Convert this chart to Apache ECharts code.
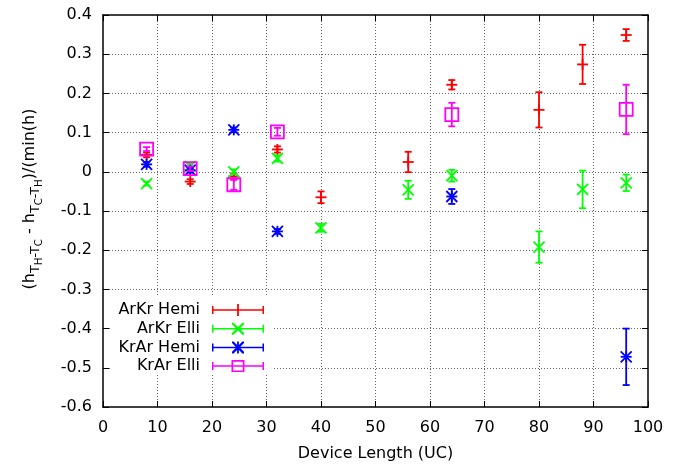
<!DOCTYPE html>
<html>
<head>
<meta charset="utf-8">
<script src="https://cdn.jsdelivr.net/npm/echarts@6/dist/echarts.min.js"></script>
<style>
  html, body { margin: 0; padding: 0; background: #fff; }
  #chart { width: 692px; height: 466px; }
</style>
</head>
<body>
<div id="chart"></div>
<script>
// device lengths (UC), values and error half-widths
const arkrHemiX = [8, 16, 24, 32, 40, 56, 64, 80, 88, 96];
const arkrHemiY = [0.043, -0.025, -0.012, 0.057, -0.065, 0.025, 0.222, 0.158, 0.274, 0.349];
const arkrHemiErr = [0.006, 0.006, 0.008, 0.008, 0.015, 0.026, 0.012, 0.045, 0.05, 0.015];

const arkrElliX = [8, 16, 24, 32, 40, 56, 64, 80, 88, 96];
const arkrElliY = [-0.03, 0.014, 0.0, 0.034, -0.143, -0.046, -0.01, -0.192, -0.045, -0.028];
const arkrElliErr = [0.005, 0.008, 0.006, 0.008, 0.01, 0.023, 0.015, 0.04, 0.048, 0.021];

const krarHemiX = [8, 16, 24, 32, 64, 96];
const krarHemiY = [0.019, 0.004, 0.107, -0.152, -0.063, -0.472];
const krarHemiErr = [0.006, 0.006, 0.006, 0.006, 0.019, 0.072];

const krarElliX = [8, 16, 24, 32, 64, 96];
const krarElliY = [0.058, 0.008, -0.033, 0.102, 0.146, 0.159];
const krarElliErr = [0.005, 0.006, 0.013, 0.01, 0.03, 0.063];

const seriesNames = ['ArKr Hemi', 'ArKr Elli', 'KrAr Hemi', 'KrAr Elli'];
const seriesColors = ['#ff0000', '#00ff00', '#0000ff', '#ff00ff'];

// legend sample: error bar line with caps + point marker (filled outlines)
const barPath = 'M0 5.25H52V6.75H0Z M0 2H1.5V10H0Z M50.5 2H52V10H50.5Z ';
const plusPath = 'M25.1 0H26.9V12H25.1Z ';
const crossPath = 'M20 0L21.6 0L32 10.4L32 12L30.4 12L20 1.6Z M30.4 0L32 0L32 1.6L21.6 12L20 12L20 10.4Z ';
const boxPath = 'M19.5 0H32.5V12H19.5Z M21.2 1.7V10.3H30.8V1.7Z';
const legendIcons = [
  'path://' + barPath + plusPath,
  'path://' + barPath + crossPath,
  'path://' + barPath + plusPath + crossPath,
  'path://' + barPath + boxPath
];

function zip(xs, ys, es) {
  return xs.map(function (x, i) { return [x, ys[i], es[i]]; });
}

function makeRender(marker) {
  return function (params, api) {
    const x = api.value(0), y = api.value(1), e = api.value(2);
    const c = api.coord([x, y]);
    const hi = api.coord([x, y + e]);
    const lo = api.coord([x, y - e]);
    const st = { stroke: api.visual('color'), lineWidth: 1.8, fill: null };
    const ln = function (x1, y1, x2, y2) {
      return { type: 'line', shape: { x1: x1, y1: y1, x2: x2, y2: y2 }, style: st };
    };
    const kids = [
      ln(c[0], hi[1], c[0], lo[1]),
      ln(c[0] - 3.5, hi[1], c[0] + 3.5, hi[1]),
      ln(c[0] - 3.5, lo[1], c[0] + 3.5, lo[1])
    ];
    const s = 5.5;
    if (marker === 'plus' || marker === 'star') {
      kids.push(ln(c[0] - s, c[1], c[0] + s, c[1]));
      kids.push(ln(c[0], c[1] - s, c[0], c[1] + s));
    }
    if (marker === 'cross' || marker === 'star') {
      kids.push(ln(c[0] - s, c[1] - s, c[0] + s, c[1] + s));
      kids.push(ln(c[0] - s, c[1] + s, c[0] + s, c[1] - s));
    }
    if (marker === 'box') {
      kids.push({ type: 'rect', shape: { x: c[0] - 6.5, y: c[1] - 6.5, width: 13, height: 13 }, style: st });
    }
    return { type: 'group', children: kids };
  };
}

const seriesData = [
  zip(arkrHemiX, arkrHemiY, arkrHemiErr),
  zip(arkrElliX, arkrElliY, arkrElliErr),
  zip(krarHemiX, krarHemiY, krarHemiErr),
  zip(krarElliX, krarElliY, krarElliErr)
];
const markers = ['plus', 'cross', 'star', 'box'];

const frameAxis = {
  axisLine: { show: true, onZero: false, lineStyle: { color: '#000', width: 1.5 } },
  axisTick: { show: true, inside: true, length: 6, lineStyle: { color: '#000', width: 1 } }
};
const grid = { show: true, color: '#666', width: 1, type: [1, 2] };

const chart = echarts.init(document.getElementById('chart'));
chart.setOption({
  animation: false,
  textStyle: { fontFamily: 'DejaVu Sans' },
  grid: { left: 103, right: 44, top: 15, bottom: 59, containLabel: false, outerBoundsMode: 'none' },
  xAxis: [
    Object.assign({
      type: 'value', min: 0, max: 100, interval: 10, position: 'bottom',
      axisLabel: { color: '#000', fontSize: 16, margin: 13, fontFamily: 'DejaVu Sans' },
      splitLine: { show: true, showMinLine: false, showMaxLine: false, lineStyle: grid },
      name: 'Device Length (UC)', nameLocation: 'middle', nameGap: 39, nameMoveOverlap: false,
      nameTextStyle: { color: '#000', fontSize: 16, fontFamily: 'DejaVu Sans' }
    }, frameAxis),
    Object.assign({
      type: 'value', min: 0, max: 100, interval: 10, position: 'top',
      axisLabel: { show: false }, splitLine: { show: false }
    }, frameAxis)
  ],
  yAxis: [
    Object.assign({
      type: 'value', min: -0.6, max: 0.4, interval: 0.1, position: 'left',
      axisLabel: { color: '#000', fontSize: 16, margin: 11, fontFamily: 'DejaVu Sans' },
      splitLine: { show: true, showMinLine: false, showMaxLine: false, lineStyle: grid }
    }, frameAxis),
    Object.assign({
      type: 'value', min: -0.6, max: 0.4, interval: 0.1, position: 'right',
      axisLabel: { show: false }, splitLine: { show: false }
    }, frameAxis)
  ],
  legend: {
    orient: 'vertical', left: 110, top: 296, align: 'right', selectedMode: false,
    backgroundColor: '#fff', padding: [6, 8, 1, 0],
    itemWidth: 52, itemHeight: 12, itemGap: 2.7,
    itemStyle: { borderWidth: 0 },
    textStyle: { color: '#000', fontSize: 16, fontFamily: 'DejaVu Sans', width: 90, lineHeight: 14, padding: [0, 7, 0, 0] },
    data: seriesNames.map(function (n, i) { return { name: n, icon: legendIcons[i] }; })
  },
  graphic: [{
    type: 'text', x: 30, y: 199, rotation: Math.PI / 2, silent: true,
    style: {
      text: '{n|(h}{s|T}{ss|H}{s|-T}{ss|C}{n| - h}{s|T}{ss|C}{s|-T}{ss|H}{n|)/(min(h)}',
      align: 'center', verticalAlign: 'middle', fill: '#000',
      rich: {
        n: { fontSize: 16, fontFamily: 'DejaVu Sans', lineHeight: 36, verticalAlign: 'middle', fill: '#000' },
        s: { fontSize: 12.8, fontFamily: 'DejaVu Sans', padding: [11, 0, 0, 0], verticalAlign: 'middle', fill: '#000' },
        ss: { fontSize: 10.2, fontFamily: 'DejaVu Sans', padding: [18, 0, 0, 0], verticalAlign: 'middle', fill: '#000' }
      }
    }
  }],
  series: seriesNames.map(function (n, i) {
    return {
      name: n, type: 'custom', silent: true,
      itemStyle: { color: seriesColors[i] },
      dimensions: ['x', 'y', 'err'],
      encode: { x: 0, y: 1 },
      renderItem: makeRender(markers[i]),
      data: seriesData[i]
    };
  })
});
</script>
</body>
</html>
